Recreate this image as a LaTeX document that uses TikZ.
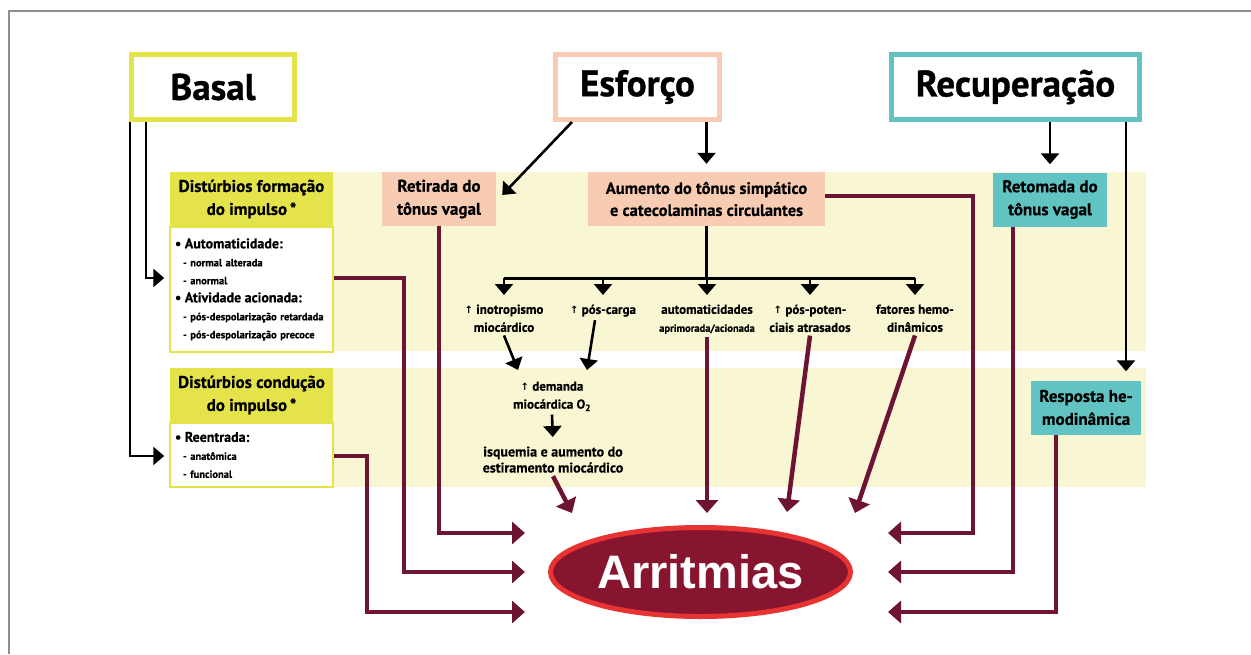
\documentclass[tikz,border=0pt]{standalone}
\usepackage{fontspec}
\setmainfont{PT Sans}[BoldFeatures={FakeBold=0.5}]
\newfontfamily\headfont{PT Sans}[BoldFeatures={FakeBold=0.8}]
\newfontfamily\bigfont{Liberation Sans}
\newfontfamily\symfont{DejaVu Sans}
\usetikzlibrary{arrows.meta,shapes.geometric,calc,positioning}

\definecolor{basalyel}{HTML}{E4E34A}
\definecolor{bandyel}{HTML}{F8F6D3}
\definecolor{salmon}{HTML}{F8CBB3}
\definecolor{teal}{HTML}{62C3C3}
\definecolor{maroon}{HTML}{6D1434}
\definecolor{arrfill}{HTML}{87152F}
\definecolor{arrred}{HTML}{E73331}
\definecolor{framegray}{HTML}{8E8E8E}

\newcommand{\incr}{{\symfont\fontsize{10}{10}\selectfont ↑}}

\begin{document}
\begin{tikzpicture}[x=1pt,y=-1pt,
	hdbox/.style={draw, line width=5pt, fill=white, minimum height=65pt, inner sep=0pt,
		font=\headfont\bfseries\fontsize{37}{42}\selectfont},
	colbox/.style={inner sep=0pt, minimum height=54pt, align=center,
		font=\bfseries\fontsize{17}{23}\selectfont},
	listbox/.style={draw=basalyel, line width=1.5pt, fill=white, inner xsep=5pt, inner ysep=0pt,
		text width=153pt, align=left, font=\bfseries\fontsize{10.5}{18}\selectfont},
	small/.style={align=center, font=\bfseries\fontsize{13}{18}\selectfont},
	bline/.style={line width=2.6pt, -{Triangle[width=18pt,length=11pt]}},
	mline/.style={draw=maroon, line width=4.5pt, -{Triangle[width=22pt,length=13pt]}}]

	\useasboundingbox (0,0) rectangle (1251,654);

	% frame and bands
	\draw[framegray, line width=2pt] (9,654) -- (9,11) -- (1251,11);
	\fill[bandyel] (170,172) rectangle (1146,351);
	\fill[bandyel] (170,368) rectangle (1146,487);

	% phases
	\node[hdbox, draw=basalyel, minimum width=163pt] (basal) at (213,87) {Basal};
	\node[hdbox, draw=salmon, minimum width=164pt] (esf) at (637.5,87) {Esforço};
	\node[hdbox, draw=teal, minimum width=248pt] (rec) at (1015.5,87) {Recuperação};

	% basal
	\node[colbox, fill=basalyel, minimum width=163pt] (fhead) at (251.5,199) {Distúrbios formação\\do impulso\,*};
	\node[listbox, minimum height=125pt, anchor=north] (fbody) at (fhead.south)
		{{\fontsize{14}{18}\selectfont • Automaticidade:}\\
		\hspace*{8pt}- normal alterada\\
		\hspace*{8pt}- anormal\\
		{\fontsize{14}{18}\selectfont • Atividade acionada:}\\
		\hspace*{8pt}- pós-despolarização retardada\\
		\hspace*{8pt}- pós-despolarização precoce};
	\node[colbox, fill=basalyel, minimum width=163pt] (chead) at (251.5,395) {Distúrbios condução\\do impulso\,*};
	\node[listbox, minimum height=64pt, anchor=north] (cbody) at (chead.south)
		{{\fontsize{14}{18}\selectfont • Reentrada:}\\
		\hspace*{8pt}- anatômica\\
		\hspace*{8pt}- funcional};

	% esforco
	\node[colbox, fill=salmon, minimum width=114pt] (ret) at (439,199) {Retirada do\\tônus vagal};
	\node[colbox, fill=salmon, minimum width=237pt, font=\bfseries\fontsize{16.5}{22}\selectfont] (aum) at (706.5,199)
		{Aumento do tônus simpático\\e catecolaminas circulantes};

	\node[small, anchor=north] (ino) at (504,301) {\incr\ inotropismo\\miocárdico};
	\node[small, anchor=north] (pcar) at (603,301) {\incr\ pós-carga};
	\node[small, anchor=north] (autom) at (707,301) {automaticidades\\{\fontsize{10.5}{18}\selectfont aprimorada/acionada}};
	\node[small, anchor=north] (ppot) at (810,301) {\incr\ pós-poten-\\ciais atrasados};
	\node[small, anchor=north] (fat) at (915,301) {fatores hemo-\\dinâmicos};
	\node[small, anchor=north] (dem) at (552,378) {\incr\ demanda\\miocárdica O\textsubscript{2}};
	\node[small, anchor=north, font=\bfseries\fontsize{14}{16}\selectfont] (isq) at (553,443)
		{isquemia e aumento do\\estiramento miocárdico};

	% recuperacao
	\node[colbox, fill=teal, minimum width=114pt] (retom) at (1050,199.5) {Retomada do\\tônus vagal};
	\node[colbox, fill=teal, minimum width=110pt] (resp) at (1086,407.5) {Resposta he-\\modinâmica};

	% outcome
	\node[ellipse, draw=arrred, line width=5pt, fill=arrfill, minimum width=300pt, minimum height=89pt,
		inner sep=0pt, text=white, font=\bigfont\bfseries\fontsize{47}{50}\selectfont] (arr) at (700.5,572) {Arritmias};

	\coordinate (inL1) at (525,533);
	\coordinate (inL2) at (525,572);
	\coordinate (inL3) at (525,612);
	\coordinate (inR1) at (888,533);
	\coordinate (inR2) at (888,572);
	\coordinate (inR3) at (888,612);
	\coordinate (inT1) at (572,513);
	\coordinate (inT2) at (707,513);
	\coordinate (inT3) at (787,512);
	\coordinate (inT4) at (855,513);
	\coordinate (rtop) at ($(resp.north)+(40,0)$);

	% black arrows
	\draw[bline, shorten >=5pt] ($(basal.south west)+(17,0)$) |- ($(fbody.west)+(0,-11.5)$);
	\draw[bline, shorten >=5pt] ($(basal.south west)+(1,0)$) |- ($(cbody.west)+(0,1)$);
	\draw[bline] ($(esf.south west)+(19,0)$) -- ($(ret.east)+(6,-4)$);
	\draw[bline, shorten >=8pt] (aum.north |- esf.south) -- (aum.north);
	\draw[bline, shorten >=8pt] (retom.north |- rec.south) -- (retom.north);
	\draw[bline, shorten >=9pt] (rtop |- rec.south) -- (rtop);

	\draw[line width=2.6pt] (aum.south) -- ++(0,52) coordinate (br);
	\draw[line width=2.6pt] (ino.north |- br) -- (fat.north |- br);
	\foreach \n in {ino,pcar,autom,ppot,fat}
		\draw[bline, shorten >=6pt] (\n.north |- br) -- (\n.north);
	\draw[bline] (ino.south) -- ($(dem.north)+(-34,-8)$);
	\draw[bline] ($(pcar.south)+(-8,0)$) -- ($(dem.north)+(35,-8)$);
	\draw[bline, shorten >=6pt] (dem.south) -- (isq.north);

	% maroon arrows
	\draw[mline] ($(fbody.east)+(0,-11.5)$) -| ($(inL2)+(-121,0)$) -- (inL2);
	\draw[mline] ($(cbody.east)+(0,1)$) -| ($(inL3)+(-158,0)$) -- (inL3);
	\draw[mline] (ret.south) |- (inL1);
	\draw[mline] ($(aum.east)+(0,-3)$) -| ($(inR1)+(85,0)$) -- (inR1);
	\draw[mline] ($(retom.south)+(-37,0)$) |- (inR2);
	\draw[mline] ($(resp.south)+(-30,0)$) |- (inR3);
	\draw[mline] (isq.south) -- (inT1);
	\draw[mline] (autom.south) -- (inT2);
	\draw[mline] (ppot.south) -- (inT3);
	\draw[mline] (fat.south) -- (inT4);
\end{tikzpicture}
\end{document}
